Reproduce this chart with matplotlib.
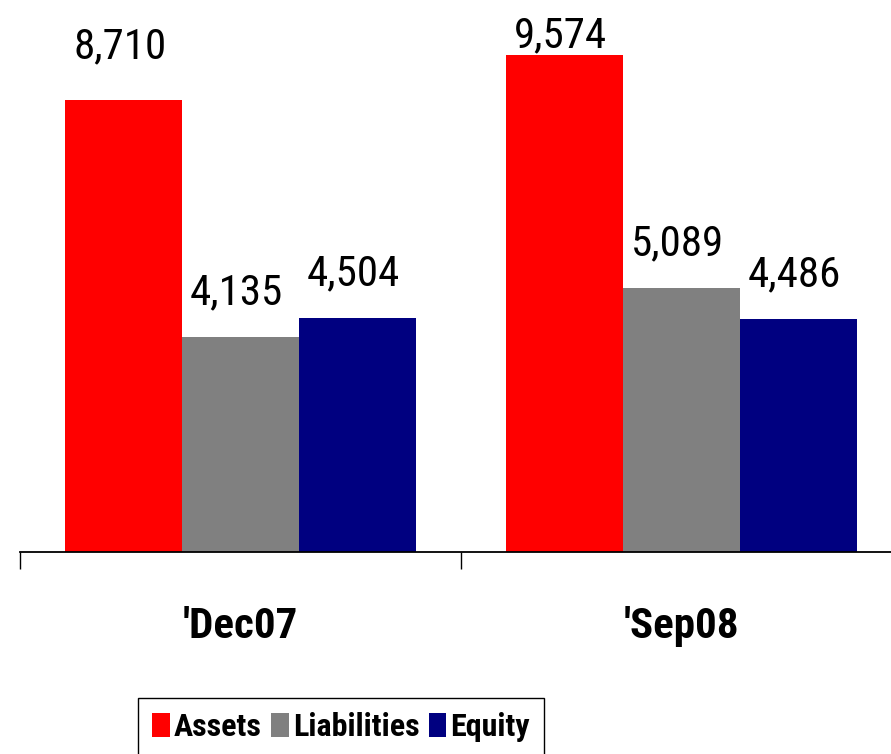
import matplotlib
matplotlib.use("Agg")
import matplotlib.pyplot as plt
import numpy as np

# ---- data ----
categories = ["'Dec07", "'Sep08"]
series_names = ["Assets", "Liabilities", "Equity"]
assets = [8710, 9574]
liabilities = [4135, 5089]
equity = [4504, 4486]
value_labels = [["8,710", "9,574"], ["4,135", "5,089"], ["4,504", "4,486"]]

# ---- style ----
colors = ["#FF0000", "#808080", "#000080"]
label_gap_px = [[42, 8], [33, 33], [33, 33]]  # vertical gap from bar top to label baseline
narrow = ["Roboto Condensed", "Liberation Sans", "DejaVu Sans"]

fig = plt.figure(figsize=(8.91, 7.54), dpi=100)
W, H = 891, 754
ax = fig.add_axes([20 / W, (H - 552) / H, 882 / W, 552 / H])

x = np.arange(len(categories))
width = 0.265
series = [assets, liabilities, equity]
for i, (name, vals) in enumerate(zip(series_names, series)):
    xs = x + (i - 1) * width
    ax.bar(xs, vals, width=width, color=colors[i], label=name, linewidth=0)
    for j, v in enumerate(vals):
        ax.annotate(value_labels[i][j], (xs[j], v), xytext=(-4, label_gap_px[i][j]),
                    textcoords="offset pixels", ha="center", va="baseline",
                    fontsize=31, family=narrow, color="black")

ax.set_xlim(-0.5, 1.5)
ax.set_ylim(0, 10640)

for s in ["left", "right", "top"]:
    ax.spines[s].set_visible(False)
ax.spines["bottom"].set_linewidth(1.3)
ax.spines["bottom"].set_color("black")

ax.set_yticks([])
ax.set_xticks([-0.5, 0.5, 1.5])
ax.set_xticklabels([])
ax.tick_params(axis="x", which="major", direction="out", length=12, width=1.0, color="black")
ax.set_xticks(x, minor=True)
ax.set_xticklabels(categories, minor=True, fontsize=31, fontweight="bold", family=narrow)
ax.tick_params(axis="x", which="minor", length=0, pad=39)

leg = fig.legend(loc="upper left", bbox_to_anchor=(138 / W, 1 - 698 / H), ncol=3,
                 frameon=True, fancybox=False, edgecolor="black", framealpha=1,
                 prop={"family": narrow, "weight": "bold", "size": 23},
                 handlelength=0.55, handleheight=0.8, handletextpad=0.12,
                 columnspacing=0.3, borderpad=0.45, borderaxespad=0)
leg.get_frame().set_linewidth(1.0)

fig.savefig("out.png", dpi=100)
